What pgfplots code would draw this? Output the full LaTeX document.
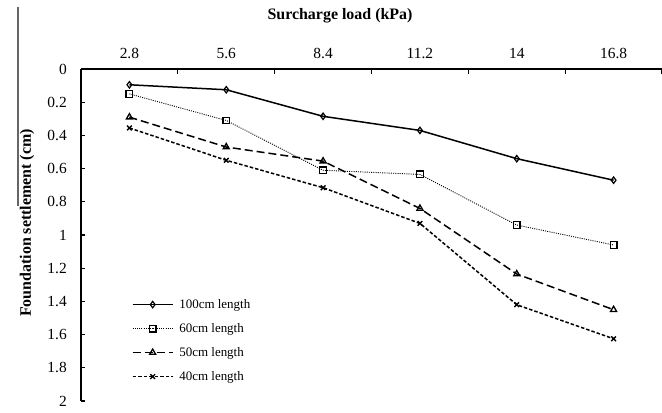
\documentclass[border=0pt]{standalone}
\usepackage{pgfplots}
\pgfplotsset{compat=1.18}
\usetikzlibrary{calc}
\usepackage{fontspec}
\setmainfont{Liberation Serif}
\begin{document}
\begin{tikzpicture}[x=1bp,y=1bp]
\begin{axis}[
  scale only axis, width=581bp, height=332bp,
  xmin=-0.5, xmax=5.5, ymin=0, ymax=2, y dir=reverse,
  axis x line*=top, axis y line*=left,
  axis line style={-, line width=1.2bp, black},
  xtick={0,1,2,3,4,5},
  xticklabels={2.8,5.6,8.4,11.2,14,16.8},
  major x tick style={draw=none},
  minor xtick={-0.5,0.5,1.5,2.5,3.5,4.5,5.5},
  ytick={0,0.2,0.4,0.6,0.8,1,1.2,1.4,1.6,1.8,2},
  tick align=inside,
  major tick length=4bp, minor tick length=5bp,
  tick style={line width=1.1bp, black},
  /pgf/number format/assume math mode=true,
  ticklabel style={font=\fontsize{15.5}{18}\selectfont},
  yticklabel style={inner sep=0pt, xshift=-14bp},
  xticklabel style={inner sep=0pt, yshift=10.5bp},
  clip=false,
  legend style={at={(0.0873,0.182)}, anchor=west, draw=none, fill=none,
    inner sep=0pt, row sep=11bp, column sep=6bp,
    font=\fontsize{13}{15}\selectfont,
    nodes={inner sep=0pt, text height=10bp, text depth=3bp}},
  legend cell align=left,
  legend image code/.code={\draw[mark repeat=2,mark phase=2,#1] plot coordinates {(0bp,0bp)(20bp,0bp)(40bp,0bp)};},
]
\addplot[black, line width=1.5bp, mark=diamond, mark size=3.2bp, mark options={solid, fill=white, line width=1.2bp}]
 coordinates {(0,0.095)(1,0.125)(2,0.285)(3,0.37)(4,0.54)(5,0.67)};
\addlegendentry{100cm length}
\addplot[black, line width=0.9bp, dash pattern=on 1bp off 1.2bp, mark=square, mark size=3.3bp, mark options={solid, fill=white, line width=1.3bp}]
 coordinates {(0,0.15)(1,0.31)(2,0.61)(3,0.635)(4,0.94)(5,1.06)};
\addlegendentry{60cm length}
\addplot[black, line width=1.5bp, dash pattern=on 8bp off 4bp, mark=triangle, mark size=3.5bp, mark options={solid, fill=white, line width=1.3bp}]
 coordinates {(0,0.29)(1,0.47)(2,0.555)(3,0.84)(4,1.235)(5,1.45)};
\addlegendentry{50cm length}
\addplot[black, line width=1.5bp, dash pattern=on 3.5bp off 2bp, mark=x, mark size=3.3bp, mark options={solid, line width=1.4bp}]
 coordinates {(0,0.355)(1,0.55)(2,0.715)(3,0.93)(4,1.42)(5,1.625)};
\addlegendentry{40cm length}
\coordinate (O) at (axis cs:-0.5,0);
\end{axis}
\node[font=\bfseries\fontsize{16}{19}\selectfont] at ($(O)+(259,53)$) {Surcharge load (kPa)};
\node[rotate=90, font=\bfseries\fontsize{16}{19}\selectfont] at ($(O)+(-54,-154)$) {Foundation settlement (cm)};
\draw[black!60, line width=1.5bp] ($(O)+(-63,62)$) -- ($(O)+(-63,-137)$);
\pgfresetboundingbox
\useasboundingbox ($(O)+(-81,69)$) rectangle ($(O)+(581,-343)$);
\end{tikzpicture}
\end{document}
